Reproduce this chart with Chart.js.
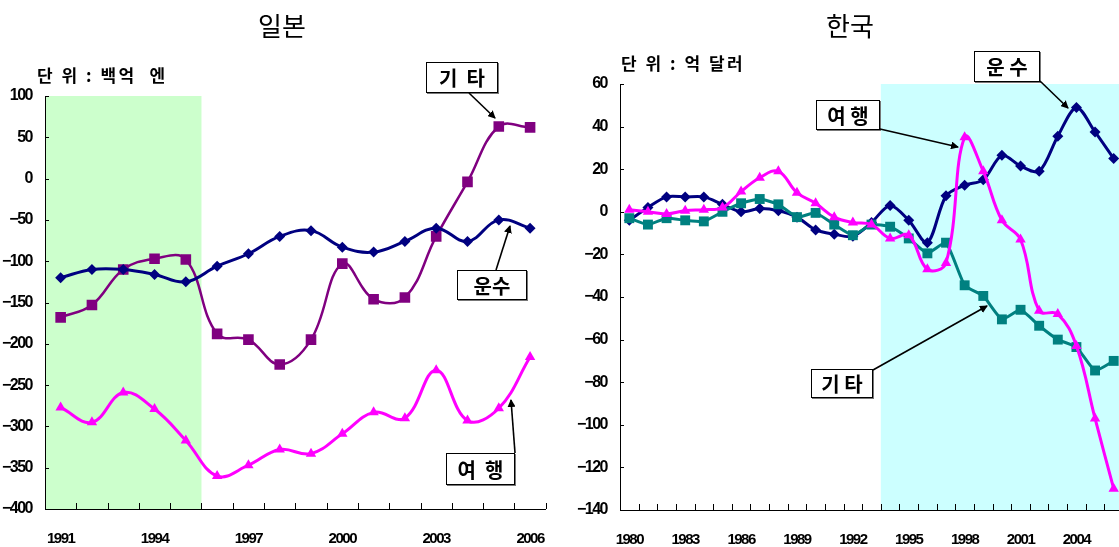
<!DOCTYPE html>
<html>
<head>
<meta charset="utf-8">
<script src="https://cdn.jsdelivr.net/npm/chart.js@4.4.0/dist/chart.umd.min.js"></script>
<style>
  body { margin: 0; width: 1119px; height: 547px; overflow: hidden; background: #fff; position: relative; font-family: 'Noto Sans CJK KR', sans-serif; }
  canvas { position: absolute; top: 0; }
  #jp-chart { left: 0; }
  #kr-chart { left: 560px; }
  .title { position: absolute; top: 6px; font-size: 26px; font-weight: 400; transform: translateX(-50%); }
  .unit { position: absolute; font-size: 17px; font-weight: 700; white-space: pre; letter-spacing: 2.5px; line-height: 22px; }
  .tag { position: absolute; box-sizing: border-box; border: 1px solid #000; background: #fff; font-size: 20px; font-weight: 700;
         display: flex; align-items: center; justify-content: center; white-space: pre; box-shadow: 1px 1px 0 #777; }
  svg { position: absolute; left: 0; top: 0; }
</style>
</head>
<body>
<canvas id="jp-chart" width="560" height="547"></canvas>
<canvas id="kr-chart" width="570" height="547"></canvas>

<div class="title" style="left:282px">일본</div>
<div class="title" style="left:850px">한국</div>
<div class="unit" style="left:37px; top:64px">단 위 : 백억  엔</div>
<div class="unit" style="left:621px; top:52px">단 위 : 억 달러</div>

<div class="tag" style="left:426px; top:62px; width:72px; height:31px">기  타</div>
<div class="tag" style="left:457px; top:270px; width:70px; height:30px">운수</div>
<div class="tag" style="left:446px; top:453px; width:69px; height:32px">여  행</div>
<div class="tag" style="left:974px; top:51px; width:66px; height:31px">운 수</div>
<div class="tag" style="left:816px; top:100px; width:64px; height:30px">여 행</div>
<div class="tag" style="left:811px; top:369px; width:62px; height:29px">기 타</div>

<svg width="1119" height="547">
  <defs>
    <marker id="head" markerWidth="8" markerHeight="8" refX="7" refY="4" orient="auto" markerUnits="userSpaceOnUse">
      <path d="M0,0 L8,4 L0,8 z" fill="#000"/>
    </marker>
  </defs>
  <g stroke="#000" stroke-width="1.6" marker-end="url(#head)">
    <line x1="469" y1="93" x2="495" y2="118"/>
    <line x1="496" y1="270" x2="510" y2="226"/>
    <line x1="515" y1="453" x2="511" y2="400"/>
    <line x1="1040" y1="81" x2="1068" y2="108"/>
    <line x1="880" y1="129" x2="958" y2="147"/>
    <line x1="873" y1="370" x2="987" y2="306"/>
  </g>
</svg>

<script>
// Japan (unit: 10 billion yen)
const jpYears = ['1991','1992','1993','1994','1995','1996','1997','1998','1999','2000','2001','2002','2003','2004','2005','2006'];
const jpTransport = [-120, -110, -110, -116, -125, -106, -91, -70, -63, -83, -89, -76, -60, -76, -50, -60];
const jpOther = [-168, -153, -110, -97, -98, -188, -195, -225, -195, -103, -146, -144, -70, -4, 63, 62];
const jpTravel = [-277, -295, -259, -279, -317, -360, -347, -328, -333, -309, -283, -290, -232, -293, -278, -216];

// Korea (unit: 100 million dollars)
const krYears = ['1980','1981','1982','1983','1984','1985','1986','1987','1988','1989','1990','1991','1992','1993',
                 '1994','1995','1996','1997','1998','1999','2000','2001','2002','2003','2004','2005','2006'];
const krTransport = [-4, 2, 7, 7, 7, 3.5, 0, 1.5, 0.5, -2.5, -8.5, -10.5, -11.5, -5, 3, -4, -14.5, 7.5, 12.5, 15, 26.5, 21.5, 19, 35.5, 49, 37.5, 25];
const krTravel = [1, 0, -1, 0.5, 1, 2, 9.5, 16, 19, 9, 4, -2.5, -5, -6, -12.5, -11, -27, -24, 35, 19, -4, -13, -46.5, -48, -63, -97, -130];
const krOther = [-3, -6, -3, -4, -4.5, 0, 4, 6, 3.5, -2.5, -0.5, -6, -11, -6, -7, -12.5, -19.5, -14.5, -34.5, -39.5, -50.5, -46, -53.5, -60, -63.5, -74.5, -70];

const NAVY = '#000080';
const PURPLE = '#800080';
const MAGENTA = '#FF00FF';
const TEAL = '#008080';
const tickFamily = "'Liberation Sans', Arial, sans-serif";

// shaded period behind the lines, plus short inward tick marks on both axes
const framePlugin = {
    id: 'frame',
    beforeDraw(chart, args, opts) {
        const { ctx, chartArea: a, scales: { x } } = chart;
        const n = chart.data.labels.length;
        const half = (x.getPixelForValue(1) - x.getPixelForValue(0)) / 2;
        const x0 = opts.from === 0 ? a.left : x.getPixelForValue(opts.from) - half;
        const x1 = opts.to >= n - 1 ? a.right : x.getPixelForValue(opts.to) + half;
        ctx.fillStyle = opts.color;
        ctx.fillRect(x0, a.top, x1 - x0, a.bottom - a.top);
        // the axis numbers in the original are tightly set
        ctx.letterSpacing = '-1.5px';
    },
    afterDraw(chart) {
        const { ctx, chartArea: a, scales: { x, y } } = chart;
        const n = chart.data.labels.length;
        const half = (x.getPixelForValue(1) - x.getPixelForValue(0)) / 2;
        ctx.save();
        ctx.strokeStyle = '#000';
        ctx.lineWidth = 1;
        ctx.beginPath();
        for (let i = 0; i <= n; i++) {
            const px = Math.round(x.getPixelForValue(0) - half + i * half * 2) + 0.5;
            ctx.moveTo(px, a.bottom);
            ctx.lineTo(px, a.bottom - 6);
        }
        y.ticks.forEach(t => {
            const py = Math.round(y.getPixelForValue(t.value)) + 0.5;
            ctx.moveTo(a.left, py);
            ctx.lineTo(a.left + 4, py);
        });
        ctx.stroke();
        ctx.restore();
    }
};

function makeLine(label, data, color, style, radius, width, tension) {
    return {
        label: label,
        data: data,
        borderColor: color,
        backgroundColor: color,
        borderWidth: width,
        pointStyle: style,
        pointRadius: radius,
        pointBorderWidth: 0,
        tension: tension
    };
}

function buildOptions(cfg) {
    return {
        responsive: false,
        animation: false,
        layout: { padding: cfg.padding },
        plugins: {
            legend: { display: false },
            tooltip: { enabled: false },
            frame: cfg.shade
        },
        scales: {
            x: {
                offset: true,
                grid: { display: false },
                border: { display: true, color: '#000', width: 1 },
                ticks: {
                    autoSkip: false,
                    maxRotation: 0,
                    padding: 13,
                    color: '#000',
                    font: { family: tickFamily, size: 15, weight: 'bold' },
                    callback: function(value, index) {
                        return index % 3 === 0 ? this.getLabelForValue(value) : '';
                    }
                },
                afterFit: s => { s.height = cfg.xHeight; }
            },
            y: {
                min: cfg.min,
                max: cfg.max,
                grid: { display: false },
                border: { display: true, color: '#000', width: 1 },
                ticks: {
                    stepSize: cfg.step,
                    padding: 5,
                    color: '#000',
                    font: { family: tickFamily, size: 16, weight: 'bold' },
                    callback: v => String(v).replace('-', '\u2212')
                },
                afterFit: s => { s.width = cfg.yWidth; }
            }
        }
    };
}

new Chart(document.getElementById('jp-chart'), {
    type: 'line',
    data: {
        labels: jpYears,
        datasets: [
            makeLine('운수', jpTransport, NAVY, 'rectRot', 5.5, 3, 0.4),
            makeLine('기타', jpOther, PURPLE, 'rect', 7.5, 2.5, 0.4),
            makeLine('여행', jpTravel, MAGENTA, 'triangle', 6, 3, 0.4)
        ]
    },
    options: buildOptions({
        padding: { top: 96, right: 7, bottom: 0, left: 0 },
        xHeight: 38, yWidth: 45,
        min: -400, max: 100, step: 50,
        shade: { from: 0, to: 4, color: '#CCFFCC' }
    }),
    plugins: [framePlugin]
});

new Chart(document.getElementById('kr-chart'), {
    type: 'line',
    data: {
        labels: krYears,
        datasets: [
            makeLine('여행', krTravel, MAGENTA, 'triangle', 6, 3, 0.4),
            makeLine('기타', krOther, TEAL, 'rect', 7, 3, 0.15),
            makeLine('운수', krTransport, NAVY, 'rectRot', 5.5, 3, 0.3)
        ]
    },
    options: buildOptions({
        padding: { top: 84, right: 0, bottom: 0, left: 0 },
        xHeight: 37, yWidth: 60,
        min: -140, max: 60, step: 20,
        shade: { from: 14, to: 26, color: '#CCFFFF' }
    }),
    plugins: [framePlugin]
});
</script>
</body>
</html>
